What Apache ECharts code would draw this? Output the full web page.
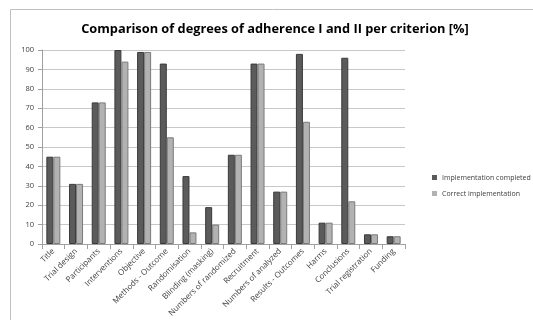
<!DOCTYPE html>
<html><head><meta charset="utf-8">
<script src="https://cdn.jsdelivr.net/npm/echarts@6/dist/echarts.min.js"></script>
<style>html,body{margin:0;padding:0;background:#fff}#c{width:533px;height:320px}</style>
</head><body><div id="c"></div>
<script>
var categories = ["Title","Trial design","Participants","Interventions","Objective","Methods - Outcome","Randomisation","Blinding (masking)","Numbers of randomized","Recruitment","Numbers of analyzed","Results - Outcomes","Harms","Conclusions","Trial registration","Funding"];
var implementationCompleted = [45,31,73,100,99,93,35,19,46,93,27,98,11,96,5,4];
var correctImplementation = [45,31,73,94,99,55,6,10,46,93,27,63,11,22,5,4];
var yTicks = [0,10,20,30,40,50,60,70,80,90,100];
var seriesNames = ["Implementation completed","Correct implementation"];

var chart = echarts.init(document.getElementById('c'));
chart.setOption({
  animation:false,
  textStyle:{fontFamily:'"Open Sans", "Liberation Sans", sans-serif'},
  title:{text:'Comparison of degrees of adherence I and II per criterion [%]',left:270,textAlign:'center',top:18,
    textStyle:{fontSize:12.8,fontWeight:'bold',color:'#000',fontFamily:'"Open Sans", sans-serif'}},
  graphic:[{type:'rect',shape:{x:10.5,y:9.5,width:600,height:400},style:{fill:'none',stroke:'#c0c0c0',lineWidth:1},silent:true}],
  legend:{orient:'vertical',left:427,top:169,itemWidth:5,itemHeight:5,itemGap:9,icon:'rect',
    itemStyle:{borderWidth:0},
    textStyle:{fontSize:7,color:'#404040'},data:seriesNames},
  grid:{left:42,right:128,top:50,bottom:76},
  xAxis:{type:'category',data:categories,
    axisLine:{lineStyle:{color:'#a0a0a0'}},axisTick:{show:true,lineStyle:{color:'#a0a0a0'}},
    axisLabel:{rotate:45,fontSize:8,color:'#404040',interval:0,margin:6}},
  yAxis:{type:'value',min:0,max:100,interval:10,
    axisLine:{show:true,lineStyle:{color:'#a0a0a0'}},axisTick:{show:true,length:4,lineStyle:{color:'#a0a0a0'}},
    axisLabel:{fontSize:7.5,color:'#404040',margin:8,formatter:function(v){return yTicks.indexOf(v)>=0?v:'';}},
    splitLine:{lineStyle:{color:'#c8c8c8'}}},
  series:[
    {name:seriesNames[0],type:'bar',data:implementationCompleted,barWidth:7,barGap:'0%',
      itemStyle:{color:'#5b5b5b',borderColor:'#3a3a3a',borderWidth:1}},
    {name:seriesNames[1],type:'bar',data:correctImplementation,barWidth:7,
      itemStyle:{color:'#b2b2b2',borderColor:'#7a7a7a',borderWidth:1}}
  ]
});
</script></body></html>
